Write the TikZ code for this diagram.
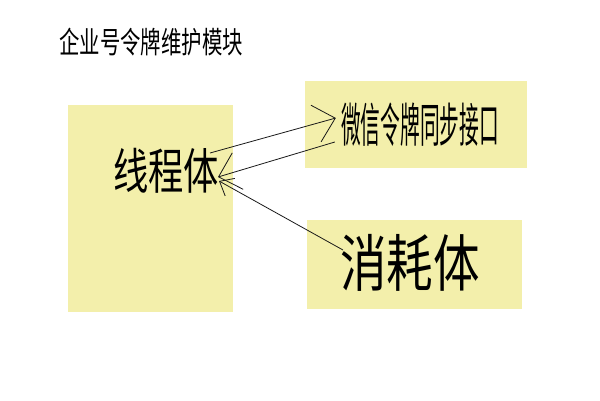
\documentclass[tikz,border=0pt]{standalone}
\usepackage{fontspec}
\usepackage{graphicx}
\newfontfamily\cjk{Noto Sans CJK SC}
\usetikzlibrary{arrows.meta}
\definecolor{boxfill}{RGB}{243,239,171}
\tikzset{
  panel/.style={fill=boxfill, draw=none},
  label/.style={inner sep=0pt, anchor=center, font=\cjk},
  conn/.style={draw=black!90, line width=0.8pt},
  head/.style={-{Straight Barb[length=20pt,width=38pt,line width=0.8pt]}},
}
\newcommand{\cjktxt}[3]{\scalebox{#2}[1]{\fontsize{#1}{#1}\selectfont #3}}
\begin{document}
\begin{tikzpicture}[x=1pt,y=-1pt]
\useasboundingbox (0,0) rectangle (600,400);
% panels
\fill[panel] (68,105) rectangle (233,312);
\fill[panel] (305,81) rectangle (527,168);
\fill[panel] (307,220) rectangle (522,309);
% texts
\node[label] (title) at (151,42) {\cjktxt{30}{0.68}{企业号令牌维护模块}};
\node[label] (thread) at (166,171) {\cjktxt{49}{0.72}{线程体}};
\node[label] (iface) at (420,125) {\cjktxt{47}{0.42}{微信令牌同步接口}};
\node[label] (consumer) at (410,263) {\cjktxt{62}{0.75}{消耗体}};
% connectors
\draw[conn,head] ([shift={(44,-18)}]thread.center) -- ([shift={(-5,-7)}]iface.west);
\draw[conn,head] ([shift={(-6,17)}]iface.west) -- ([shift={(52,6)}]thread.center);
\draw[conn,{Straight Barb[length=12pt,width=20pt,line width=0.8pt]}-] ([shift={(53,10)}]thread.center) -- ([shift={(-67,-13)}]consumer.center);
\end{tikzpicture}
\end{document}
